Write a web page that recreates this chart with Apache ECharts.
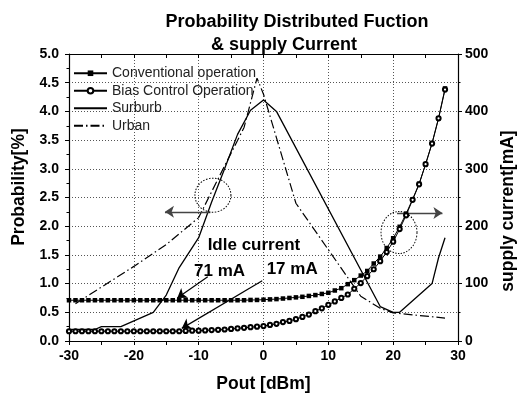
<!DOCTYPE html>
<html>
<head>
<meta charset="utf-8">
<script src="https://cdn.jsdelivr.net/npm/echarts@6.0.0/dist/echarts.min.js"></script>
<style>
html, body { margin: 0; padding: 0; background: #fff; }
#chart { width: 520px; height: 396px; }
</style>
</head>
<body>
<div id="chart"></div>
<script>
// Pout [dBm] for the two supply current curves
var pout = [-30, -29, -28, -27, -26, -25, -24, -23, -22, -21, -20, -19, -18, -17, -16, -15, -14, -13, -12, -11,
  -10, -9, -8, -7, -6, -5, -4, -3, -2, -1, 0, 1, 2, 3, 4, 5, 6, 7, 8, 9,
  10, 11, 12, 13, 14, 15, 16, 17, 18, 19, 20, 21, 22, 23, 24, 25, 26, 27, 28]
// supply current [mA]
var conventional = [71, 71, 71, 71, 71, 71, 71, 71, 71, 71, 71, 71, 71, 71, 71, 71, 71, 71, 71, 71,
  71, 71, 71, 71, 71, 71, 71, 71, 71.5, 71.5, 72, 72.5, 73, 74, 75, 76, 77, 78.5, 80, 82,
  84, 88, 92, 99, 106, 114, 122, 135, 147, 162, 179, 199, 222, 247, 274, 308, 345, 388, 440]
var biasControl = [17, 17, 17, 17, 17, 17, 17, 17, 17, 17, 17, 17, 17, 17, 17, 17, 17, 17, 17.5, 18,
  18, 18.5, 19, 19.5, 20, 21, 22, 23, 24, 25, 26, 28, 30, 33, 35, 38, 42, 46, 52, 57,
  63, 69, 75, 81, 91, 101, 113, 125, 139, 155, 173, 195, 219, 246, 273, 308, 344, 388, 438]
// probability [%]
var suburbX = [-30, -26, -25, -22, -17, -15, -13, -10, -8, -6, -4, -2, 0, 2, 18, 20, 21, 26, 27, 28]
var suburbY = [0.2, 0.2, 0.25, 0.25, 0.5, 0.8, 1.28, 1.8, 2.42, 3.0, 3.6, 4.02, 4.2, 4.0, 0.6, 0.5, 0.5, 1.0, 1.45, 1.8]
var urbanX = [-29, -20, -15, -10, -8, -6, -3, -1, 0, 5, 15, 18, 20, 28]
var urbanY = [0.65, 1.3, 1.68, 2.15, 2.6, 3.05, 3.72, 4.58, 4.3, 2.4, 0.78, 0.57, 0.49, 0.4]

var seriesNames = ['Conventional operation', 'Bias Control Operation', 'Surburb', 'Urban']
var notes = ['Idle current', '71 mA', '17 mA']
var noteAt = [[-1.4, 1.66], [-6.7, 1.2], [4.5, 1.24]]

var FONT = 'Liberation Sans, Arial, sans-serif'

function pairs(xs, ys) {
  var out = []
  for (var i = 0; i < xs.length; i++) out.push([xs[i], ys[i]])
  return out
}

var chart = echarts.init(document.getElementById('chart'), null, { renderer: 'canvas' })

var noMarker = { color: 'rgba(0,0,0,0)', borderWidth: 0, opacity: 0 }

var option = {
  animation: false,
  backgroundColor: '#fff',
  title: [
    { text: 'Probability Distributed Fuction', left: 292, top: 8, textAlign: 'center',
      textStyle: { fontFamily: FONT, fontSize: 18, fontWeight: 'bold', color: '#000' } },
    { text: '& supply Current', left: 279, top: 31, textAlign: 'center',
      textStyle: { fontFamily: FONT, fontSize: 18, fontWeight: 'bold', color: '#000' } }
  ],
  legend: {
    data: [
      { name: seriesNames[0] },
      { name: seriesNames[1] },
      { name: seriesNames[2], itemStyle: noMarker },
      { name: seriesNames[3], itemStyle: noMarker }
    ],
    orient: 'vertical',
    left: 73,
    top: 66,
    padding: 0,
    itemWidth: 33,
    itemHeight: 7,
    itemGap: 3,
    textStyle: { fontFamily: FONT, fontSize: 14, color: '#222', lineHeight: 14.5 },
    selectedMode: false
  },
  grid: { left: 69, right: 62, top: 54, bottom: 55, outerBoundsMode: 'none', containLabel: false },
  xAxis: [
    {
      type: 'value', min: -30, max: 30, interval: 10, position: 'bottom',
      name: 'Pout [dBm]', nameLocation: 'middle', nameGap: 34,
      nameTextStyle: { fontFamily: FONT, fontSize: 17.5, fontWeight: 'bold', color: '#000' },
      axisLine: { show: true, onZero: false, lineStyle: { color: '#000', width: 1.2 } },
      axisTick: { show: true, length: 4, lineStyle: { color: '#000' } },
      minorTick: { show: true, splitNumber: 2, length: 4, lineStyle: { color: '#000' } },
      axisLabel: { margin: 8, fontFamily: FONT, fontSize: 14, fontWeight: 'bold', color: '#000' },
      splitLine: { show: true, lineStyle: { color: '#555', type: [1, 2], width: 1 } }
    },
    {
      type: 'value', min: -30, max: 30, interval: 10, position: 'top',
      axisLine: { show: true, onZero: false, lineStyle: { color: '#000', width: 1.2 } },
      axisTick: { show: true, inside: true, length: 4, lineStyle: { color: '#000' } },
      minorTick: { show: true, splitNumber: 2, length: 4, lineStyle: { color: '#000' } },
      axisLabel: { show: false },
      splitLine: { show: false }
    }
  ],
  yAxis: [
    {
      type: 'value', min: 0, max: 5, interval: 0.5, position: 'left',
      name: 'Probability[%]', nameLocation: 'middle', nameGap: 37, nameRotate: 90,
      nameTextStyle: { fontFamily: FONT, fontSize: 17.5, fontWeight: 'bold', color: '#000', padding: [0, 0, 0, 21] },
      axisLine: { show: true, onZero: false, lineStyle: { color: '#000', width: 1.2 } },
      axisTick: { show: true, length: 4, lineStyle: { color: '#000' } },
      minorTick: { show: true, splitNumber: 2, length: 2.5, lineStyle: { color: '#000' } },
      axisLabel: { margin: 10, fontFamily: FONT, fontSize: 14, fontWeight: 'bold', color: '#000',
        formatter: function (v) { return v.toFixed(1) } },
      splitLine: { show: true, lineStyle: { color: '#555', type: [1, 2], width: 1 } }
    },
    {
      type: 'value', min: 0, max: 500, interval: 100, position: 'right',
      name: 'supply current[mA]', nameLocation: 'middle', nameGap: 34, nameRotate: 90,
      nameTextStyle: { fontFamily: FONT, fontSize: 17.5, fontWeight: 'bold', color: '#000', padding: [0, 27, 0, 0] },
      axisLine: { show: true, onZero: false, lineStyle: { color: '#000', width: 1.2 } },
      axisTick: { show: true, length: 4, lineStyle: { color: '#000' } },
      minorTick: { show: true, splitNumber: 2, length: 2.5, lineStyle: { color: '#000' } },
      axisLabel: { margin: 7, fontFamily: FONT, fontSize: 14, fontWeight: 'bold', color: '#000' },
      splitLine: { show: false }
    }
  ],
  series: [
    {
      name: seriesNames[2], type: 'line', xAxisIndex: 0, yAxisIndex: 0,
      data: pairs(suburbX, suburbY), symbol: 'none', color: '#000',
      lineStyle: { color: '#000', width: 1.3 }, z: 3
    },
    {
      name: seriesNames[3], type: 'line', xAxisIndex: 0, yAxisIndex: 0,
      data: pairs(urbanX, urbanY), symbol: 'none', color: '#000',
      lineStyle: { color: '#000', width: 1.2, type: [9, 3, 1.5, 3] }, z: 3
    },
    {
      name: seriesNames[0], type: 'line', xAxisIndex: 0, yAxisIndex: 1,
      data: pairs(pout, conventional), symbol: 'rect', symbolSize: 4.5, color: '#000',
      itemStyle: { color: '#000' }, lineStyle: { color: '#000', width: 1 }, z: 4
    },
    {
      name: seriesNames[1], type: 'line', xAxisIndex: 0, yAxisIndex: 1,
      data: pairs(pout, biasControl), symbol: 'emptyCircle', symbolSize: 4.2, color: '#000',
      itemStyle: { color: '#000', borderWidth: 0.7 }, lineStyle: { color: '#000', width: 1 }, z: 5
    },
    {
      // dotted rings round the two crossings
      name: 'rings', type: 'scatter', xAxisIndex: 0, yAxisIndex: 0, silent: true, z: 6,
      symbol: 'circle',
      itemStyle: { color: 'rgba(0,0,0,0)', borderColor: '#000', borderType: [1.5, 1.5], borderWidth: 1, opacity: 1 },
      data: [
        { value: [-7.8, 2.54], symbolSize: [36, 34] },
        { value: [20.9, 1.89], symbolSize: [36, 42] }
      ]
    },
    {
      name: 'notes', type: 'scatter', xAxisIndex: 0, yAxisIndex: 0, silent: true, z: 7,
      symbolSize: 1, color: '#fff', itemStyle: { color: 'rgba(0,0,0,0)', opacity: 1 },
      data: notes.map(function (t, i) { return { name: t, value: noteAt[i] } }),
      label: {
        show: true, position: [0, 0], align: 'center', verticalAlign: 'middle', formatter: '{b}',
        fontFamily: FONT, fontSize: 17, fontWeight: 'bold', color: '#000', opacity: 1
      },
      markLine: {
        silent: true, symbol: ['none', 'arrow'], symbolSize: 9,
        itemStyle: { color: '#000', opacity: 1 },
        label: { show: false },
        data: [
          [{ coord: [-8.6, 1.12], lineStyle: { color: '#000', width: 1.2, type: 'solid' } }, { coord: [-13.3, 0.75] }],
          [{ coord: [-0.2, 1.05], lineStyle: { color: '#000', width: 1.2, type: 'solid' } }, { coord: [-12.6, 0.22] }],
          [{ coord: [-8.2, 2.25], lineStyle: { color: '#444', width: 1.3, type: 'solid' } }, { coord: [-15.2, 2.25] }],
          [{ coord: [20.6, 2.23], lineStyle: { color: '#444', width: 1.3, type: 'solid' } }, { coord: [27.6, 2.23] }]
        ]
      }
    }
  ]
}

chart.setOption(option)
</script>
</body>
</html>
